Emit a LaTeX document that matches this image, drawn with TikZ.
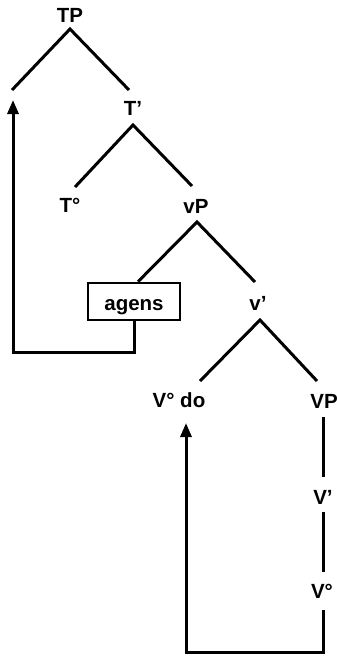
\documentclass[tikz,border=0pt]{standalone}
\usepackage{fontspec}
\setmainfont{Liberation Sans}
\usetikzlibrary{arrows.meta}
\begin{document}
\begin{tikzpicture}[x=1pt,y=-1pt,
  lab/.style={font=\fontsize{20.5}{22}\selectfont\bfseries, inner sep=1pt},
  br/.style={line width=3pt},
  mv/.style={line width=3pt, -{Triangle[length=14pt,width=11pt]}}]
\useasboundingbox (0,0) rectangle (337,657);
% nodes
\node[lab] (TP) at (70,15) {TP};
\node[lab] (Tb) at (133,108) {T'};
\node[lab] (To) at (70,205) {T°};
\node[lab] (vP) at (196,206) {vP};
\node[draw, line width=2.6pt, minimum width=92pt, minimum height=37pt, inner sep=0pt,
      text height=17pt, text depth=0pt,
      font=\fontsize{20.5}{22}\selectfont\bfseries] (ag) at (134,301.5) {agens};
\node[lab] (vb) at (258,303) {v'};
\node[lab] (Vdo) at (179,400) {V° do};
\node[lab] (VP) at (324,401) {VP};
\node[lab] (Vb) at (323,497) {V'};
\node[lab] (Vo) at (322,591) {V°};
% branch end coordinates
\coordinate (tpt) at (70,29);
\coordinate (tpl) at (12,90);
\coordinate (tpr) at (129,90);
\coordinate (tbt) at (133,125);
\coordinate (tbl) at (75,187);
\coordinate (tbr) at (192,186);
\coordinate (vpt) at (197,222);
\coordinate (vbt) at (260,320);
\coordinate (vbl) at (200,381);
\coordinate (vbr) at (317,381);
\coordinate (vpr) at (255,282);
% tree lines
\draw[br] (tpl) -- (tpt) -- (tpr);
\draw[br] (tbl) -- (tbt) -- (tbr);
\draw[br] (ag.north) ++(4,0) -- (vpt) -- (vpr);
\draw[br] (vbl) -- (vbt) -- (vbr);
\draw[br] (323,417) -- (323,477);
\draw[br] (323,512) -- (323,572);
% movement arrows
\coordinate (a1) at (13,352);
\coordinate (a1t) at (13,100);
\draw[mv] (ag.south) |- (a1) -- (a1t);
\coordinate (a2s) at (323,610);
\coordinate (a2) at (186,652);
\coordinate (a2t) at (186,423);
\draw[mv] (a2s) |- (a2) -- (a2t);
\end{tikzpicture}
\end{document}
